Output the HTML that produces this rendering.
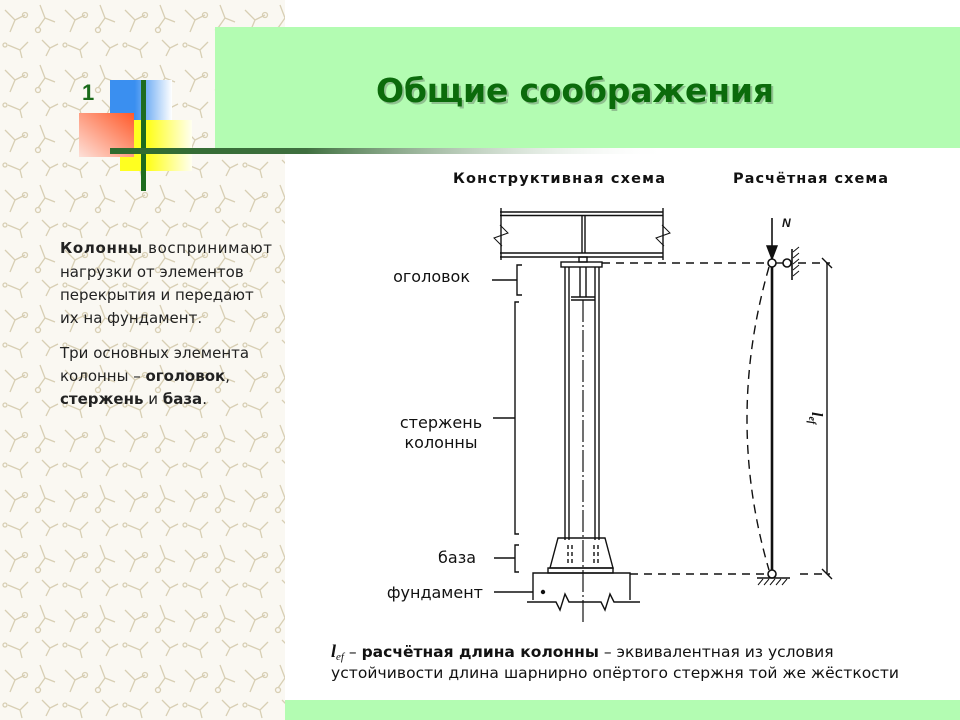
<!DOCTYPE html>
<html><head><meta charset="utf-8"><style>
body{margin:0;width:960px;height:720px;overflow:hidden;background:#fff;position:relative;font-family:"DejaVu Sans","Liberation Sans",sans-serif}
.abs{position:absolute}
</style></head><body>
<svg class="abs" style="left:0;top:0" width="960" height="720" xmlns="http://www.w3.org/2000/svg">
<defs>
<pattern id="pt" width="60" height="60" patternUnits="userSpaceOnUse">
<rect width="60" height="60" fill="#faf8f2"/>
<g stroke="#d8cfb4" stroke-width="1.3" fill="none">
<path d="M5 10 L15 20 L10 32 M15 20 L25 15"/><circle cx="25" cy="15" r="2.5"/>
<path d="M40 5 L45 18 L55 22 M45 18 L38 28"/><circle cx="38" cy="30" r="2.5"/>
<path d="M8 45 L20 50 L28 42 M20 50 L22 58"/><path d="M42 40 L50 48 L46 56 M50 48 L58 44"/><circle cx="5" cy="45" r="2"/>
</g></pattern>
<linearGradient id="bar" x1="0" x2="1"><stop offset="0" stop-color="#2e6b2e"/><stop offset="0.35" stop-color="#3f6f3f"/><stop offset="0.75" stop-color="#c8d8c8" stop-opacity="0.6"/><stop offset="1" stop-color="#fff" stop-opacity="0"/></linearGradient>
<linearGradient id="bl" x1="0" x2="1"><stop offset="0.4" stop-color="#3a8ff0"/><stop offset="1" stop-color="#fff"/></linearGradient>
<linearGradient id="yl" x1="0" x2="1"><stop offset="0.4" stop-color="#ffff20"/><stop offset="1" stop-color="#fffff0"/></linearGradient>
<linearGradient id="rd" x1="1" y1="0" x2="0" y2="1"><stop offset="0" stop-color="#ff5a2a"/><stop offset="1" stop-color="#fde0d8"/></linearGradient>
</defs>
<rect x="0" y="0" width="285" height="720" fill="url(#pt)"/>
<rect x="215" y="27" width="745" height="121" fill="#b3fcb2"/>
<rect x="285" y="700" width="675" height="20" fill="#b3fcb2"/>
<rect x="110" y="80" width="62" height="40" fill="url(#bl)"/>
<rect x="120" y="120" width="72" height="51" fill="url(#yl)"/>
<rect x="79" y="113" width="55" height="44" fill="url(#rd)"/>
<rect x="141" y="80" width="5" height="111" fill="#1e6b1e"/>
<rect x="110" y="148" width="560" height="6" fill="url(#bar)"/>
<text x="82" y="100" font-family="Liberation Sans,sans-serif" font-weight="bold" font-size="22" fill="#1a6a1a">1</text>
<g stroke="#111" fill="none" stroke-width="1.4">
<line x1="500" y1="212" x2="663" y2="212"/><line x1="500" y1="215.5" x2="663" y2="215.5"/>
<line x1="500" y1="253" x2="663" y2="253"/><line x1="500" y1="257" x2="663" y2="257"/>
<line x1="501" y1="208" x2="501" y2="260"/><line x1="663" y1="208" x2="663" y2="260"/>
<line x1="582" y1="216" x2="582" y2="253"/><line x1="585" y1="216" x2="585" y2="253"/>
<path d="M500 225 L508 233 L494 238 L502 246" stroke-width="1"/>
<path d="M662 225 L670 233 L656 238 L664 246" stroke-width="1"/>
<rect x="561" y="262" width="41" height="5"/><rect x="579" y="257" width="8" height="5"/>
<line x1="565" y1="267" x2="565" y2="540"/><line x1="569" y1="267" x2="569" y2="540"/>
<line x1="595" y1="267" x2="595" y2="540"/><line x1="599" y1="267" x2="599" y2="540"/>
<line x1="580" y1="267" x2="580" y2="297"/><line x1="586" y1="267" x2="586" y2="297"/>
<line x1="571" y1="297" x2="595" y2="297"/><line x1="571" y1="300" x2="595" y2="300"/>
<line x1="583" y1="300" x2="583" y2="622" stroke-dasharray="22 3 2 3" stroke-width="1.2"/>
<path d="M558 538 L605 538 L613 568 L550 568 Z"/>
<rect x="548" y="568" width="65" height="5"/>
<path d="M568 545 V566 M572 545 V566 M594 545 V566 M598 545 V566" stroke-dasharray="4 3"/>
<path d="M533 600 V573 H630 V600"/>
<path d="M527 602 H556 L560 610 L565 594 L569 602 H601 L605 610 L610 594 L614 602 H640"/>
<circle cx="543" cy="592" r="1.5" fill="#111"/>
<path d="M522 265 H517 V295 H522 M492 280 H517"/>
<path d="M519 302 H515 V534 H519 M493 418 H515"/>
<path d="M519 545 H515 V572 H519 M494 558 H515"/>
<line x1="494" y1="592" x2="533" y2="592"/>
<path d="M602 263 H765 M630 574 H765 M798 263 H830 M800 574 H830" stroke-dasharray="8 6"/>
<line x1="772" y1="266" x2="772" y2="570" stroke-width="2.6"/>
<path d="M769 267 Q725 420 769 570" stroke-dasharray="9 6"/>
<line x1="772" y1="218" x2="772" y2="250" stroke-width="1.6"/>
<path d="M767 246 L772 259 L777 246 Z" fill="#111"/>
<circle cx="772" cy="263" r="4" fill="#fff" stroke-width="1.6"/>
<line x1="776" y1="263" x2="783" y2="263"/>
<circle cx="787" cy="263" r="4" fill="#fff" stroke-width="1.6"/>
<line x1="792" y1="249" x2="792" y2="280" stroke-width="1.6"/>
<path d="M793 252 l6 -5 M793 258 l6 -5 M793 264 l6 -5 M793 270 l6 -5 M793 276 l6 -5" stroke-width="1"/>
<circle cx="772" cy="574" r="4" fill="#fff" stroke-width="1.6"/>
<line x1="757" y1="578" x2="790" y2="578" stroke-width="1.6"/>
<path d="M758 585 l5 -6 M764 585 l5 -6 M770 585 l5 -6 M776 585 l5 -6 M782 585 l5 -6" stroke-width="1"/>
<line x1="827" y1="263" x2="827" y2="574"/>
<path d="M822 258 l10 10 M822 569 l10 10"/>
</g>
<text x="782" y="227" font-family="Liberation Sans,sans-serif" font-style="italic" font-weight="bold" font-size="12" fill="#111">N</text>
<text transform="translate(812,412) rotate(90)" font-family="Liberation Serif,serif" font-style="italic" font-weight="bold" font-size="16" fill="#111">l<tspan font-size="10" dy="3">ef</tspan></text>
<text x="376" y="102" font-family="DejaVu Sans,sans-serif" font-weight="bold" font-size="33" fill="#7a9a7a" opacity="0.6" transform="translate(2,2)" textLength="398">Общие соображения</text>
<text x="376" y="102" font-family="DejaVu Sans,sans-serif" font-weight="bold" font-size="33" fill="#0b6b0b" textLength="398">Общие соображения</text>
<g font-family="DejaVu Sans,sans-serif" font-size="16" fill="#111">
<text x="453" y="183" font-weight="bold" font-size="14.5" textLength="212">Конструктивная схема</text>
<text x="733" y="183" font-weight="bold" font-size="14.5" textLength="155">Расчётная схема</text>
<text x="470" y="282" text-anchor="end">оголовок</text>
<text x="441" y="428" text-anchor="middle">стержень</text>
<text x="441" y="448" text-anchor="middle">колонны</text>
<text x="476" y="563" text-anchor="end">база</text>
<text x="483" y="598" text-anchor="end">фундамент</text>
<text x="331" y="657" font-size="15.5"><tspan font-family="Liberation Serif,serif" font-style="italic" font-weight="bold" font-size="18">l</tspan><tspan font-family="Liberation Serif,serif" font-style="italic" font-size="11" dy="3">ef</tspan><tspan dy="-3"> – </tspan><tspan font-weight="bold">расчётная длина колонны</tspan> – эквивалентная из условия</text>
<text x="331" y="678" font-size="15.5" textLength="568">устойчивости длина шарнирно опёртого стержня той же жёсткости</text>
</g>
<g font-family="DejaVu Sans,sans-serif" font-size="15" fill="#222">
<text x="60" y="253" textLength="212"><tspan font-weight="bold">Колонны</tspan> воспринимают</text>
<text x="60" y="277">нагрузки от элементов</text>
<text x="60" y="300">перекрытия и передают</text>
<text x="60" y="323">их на фундамент.</text>
<text x="60" y="358">Три основных элемента</text>
<text x="60" y="381">колонны – <tspan font-weight="bold">оголовок</tspan>,</text>
<text x="60" y="404"><tspan font-weight="bold">стержень</tspan> и <tspan font-weight="bold">база</tspan>.</text>
</g>
</svg>
</body></html>
